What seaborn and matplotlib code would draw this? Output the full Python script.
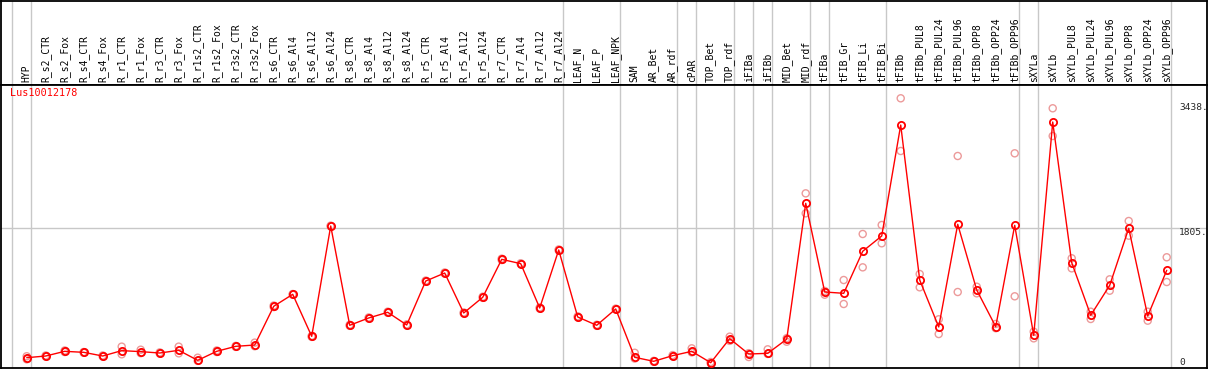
import matplotlib
matplotlib.use("Agg")
import pandas as pd
import seaborn as sns
from matplotlib import pyplot as plt

# sample names, left to right
samples = [
    "HYP", "R_s2_CTR", "R_s2_Fox", "R_s4_CTR", "R_s4_Fox", "R_r1_CTR", "R_r1_Fox",
    "R_r3_CTR", "R_r3_Fox", "R_r1s2_CTR", "R_r1s2_Fox", "R_r3s2_CTR", "R_r3s2_Fox",
    "R_s6_CTR", "R_s6_Al4", "R_s6_Al12", "R_s6_Al24", "R_s8_CTR", "R_s8_Al4",
    "R_s8_Al12", "R_s8_Al24", "R_r5_CTR", "R_r5_Al4", "R_r5_Al12", "R_r5_Al24",
    "R_r7_CTR", "R_r7_Al4", "R_r7_Al12", "R_r7_Al24", "LEAF_N", "LEAF_P", "LEAF_NPK",
    "SAM", "AR_Bet", "AR_rdf", "cPAR", "TOP_Bet", "TOP_rdf", "iFIBa", "iFIBb",
    "MID_Bet", "MID_rdf", "tFIBa", "tFIB_Gr", "tFIB_Li", "tFIB_Bi", "tFIBb",
    "tFIBb_PUL8", "tFIBb_PUL24", "tFIBb_PUL96", "tFIBb_OPP8", "tFIBb_OPP24",
    "tFIBb_OPP96", "sXYLa", "sXYLb", "sXYLb_PUL8", "sXYLb_PUL24", "sXYLb_PUL96",
    "sXYLb_OPP8", "sXYLb_OPP24", "sXYLb_OPP96",
]

# mean expression per sample
mean_vals = [
    121, 143, 204, 191, 143, 213, 200, 182, 217, 87, 204, 269, 286,
    790, 946, 399, 1835, 543, 638, 712, 547, 1119, 1223, 703, 907,
    1401, 1345, 768, 1523, 651, 543, 755, 126, 74, 148, 204, 56, 369,
    169, 178, 362, 2130, 976, 959, 1506, 1705, 3149, 1132, 521, 1857,
    1002, 525, 1844, 412, 3188, 1358, 673, 1063, 1805, 664, 1258,
]

# replicate values
rep_a = [
    140, 150, 215, 195, 150, 265, 225, 190, 265, 121, 215, 275, 317,
    800, 950, 405, 1840, 550, 645, 720, 555, 1125, 1230, 710, 915,
    1410, 1350, 775, 1530, 660, 550, 760, 185, 80, 155, 243, 65, 395,
    180, 230, 375, 2260, 990, 1132, 1731, 1848, 3497, 1210, 621, 2746,
    1045, 560, 2781, 460, 3367, 1415, 720, 1141, 1900, 720, 1428,
]
rep_b = [
    100, 136, 195, 185, 136, 165, 180, 175, 178, 80, 195, 262, 270,
    780, 940, 392, 1830, 536, 630, 705, 540, 1112, 1216, 696, 900,
    1392, 1340, 760, 1516, 645, 536, 748, 110, 68, 140, 190, 48, 340,
    130, 170, 329, 2000, 941, 820, 1297, 1610, 2811, 1037, 429, 976,
    959, 505, 920, 373, 3006, 1284, 625, 993, 1709, 603, 1106,
]

# last sample index of each tissue group (-1 = line before the first one)
group_ends = [-1, 0, 28, 31, 34, 35, 37, 38, 39, 41, 42, 45, 52, 53, 60]

gene = "Lus10012178"
y_marks = [3438, 1805]

pos = list(range(len(samples)))
mean_df = pd.DataFrame({"pos": pos, "value": mean_vals})
rep_df = pd.DataFrame({"pos": pos * 2, "value": rep_a + rep_b})

sns.set_style("white")
plt.rcParams["font.family"] = ["DejaVu Sans Mono"]

W, H = 1209, 370
fig = plt.figure(figsize=(W / 100, H / 100), dpi=100)
x0, x1 = 1 / W, 1207 / W
ax_top = fig.add_axes([x0, (H - 85) / H, x1 - x0, 84 / H])
ax = fig.add_axes([x0, (H - 368) / H, x1 - x0, (368 - 85) / H], sharex=ax_top)

ax.set_xlim(-1.353, 62.12)
ax.set_ylim(-13, 3670)
ax_top.set_ylim(0, 1)

for a in (ax, ax_top):
    for s in a.spines.values():
        s.set_color("black")
        s.set_linewidth(1.3)
    a.set_xticks([])
    a.set_yticks([])
    for g in group_ends:
        a.axvline(g + 0.21, color="#c8c8c8", lw=1, zorder=0)

ax.axhline(y_marks[1], color="#c8c8c8", lw=1, zorder=0)

# replicates
sns.scatterplot(data=rep_df, x="pos", y="value", ax=ax, marker="o", s=26,
                facecolor="none", edgecolor="#ec9a9a", linewidth=1.0, zorder=2)
# means
sns.lineplot(data=mean_df, x="pos", y="value", ax=ax, color="red", lw=1,
             marker="o", markersize=5.2, mfc="none", mec="red", mew=1.3, zorder=3)
ax.set_xlabel("")
ax.set_ylabel("")

# sample labels
for i, name in enumerate(samples):
    ax_top.text(i, 0.03, name, rotation=90, ha="center", va="bottom",
                fontsize=7, color="black")

ax.text(-0.88, 3560, gene, color="red", fontsize=7.3, va="center", ha="left")

label_x = 60.65
for v in y_marks:
    ax.annotate(f"{v}.", (label_x, v), xytext=(0, -3.2), textcoords="offset points",
                ha="left", va="center", fontsize=6.8)
ax.annotate("0", (label_x, 0), xytext=(0, 3.5), textcoords="offset points",
            ha="left", va="center", fontsize=6.8)

fig.savefig("out.png", dpi=100)
plt.close(fig)
